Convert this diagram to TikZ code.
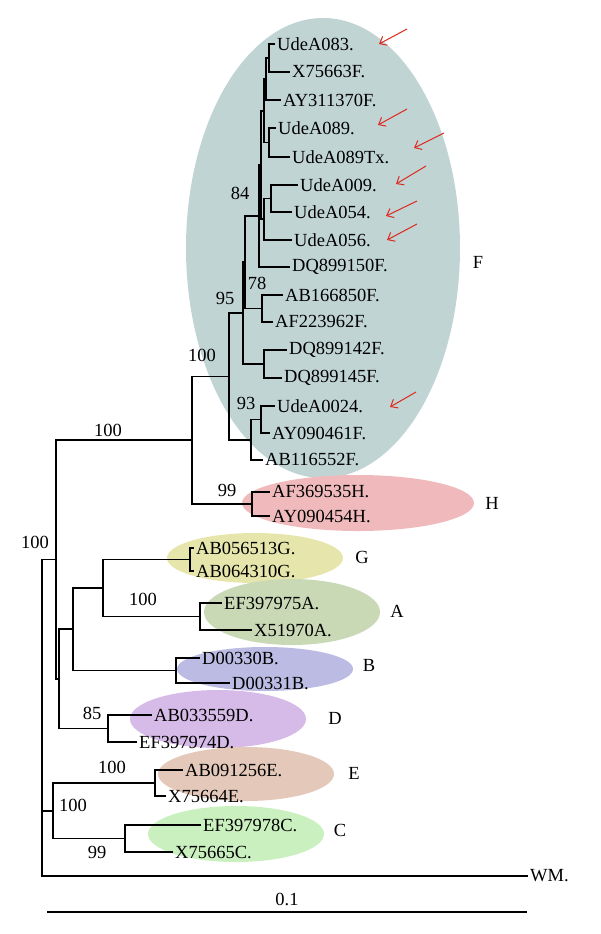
\documentclass[tikz,border=0pt]{standalone}
\usepackage{fontspec}
\setmainfont{Liberation Serif}
\usetikzlibrary{arrows.meta,shapes.geometric}
\definecolor{cF}{RGB}{193,212,212}
\definecolor{cH}{RGB}{240,186,188}
\definecolor{cG}{RGB}{230,230,172}
\definecolor{cA}{RGB}{201,217,182}
\definecolor{cB}{RGB}{187,187,228}
\definecolor{cD}{RGB}{214,186,232}
\definecolor{cE}{RGB}{228,200,186}
\definecolor{cC}{RGB}{202,240,192}
\definecolor{cRed}{RGB}{220,40,30}
\begin{document}
\begin{tikzpicture}[x=1pt,y=-1pt,
  font=\fontsize{18.5}{21}\selectfont,
  br/.style={line width=1.15pt},
  leaf/.style={anchor=west, inner sep=2pt},
  bs/.style={inner sep=0pt},
  blob/.style={ellipse, inner sep=0pt, draw=none},
  redarr/.style={draw=cRed, line width=1pt, -{Straight Barb[length=6pt,width=10pt]}}]
\useasboundingbox (0,0) rectangle (600,934);

% clade ellipses
\node[blob, fill=cF, minimum width=274pt, minimum height=460pt] (eF) at (323,248) {};
\node[blob, fill=cH, minimum width=232pt, minimum height=56pt] (eH) at (358,503) {};
\node[blob, fill=cG, minimum width=176pt, minimum height=50pt] (eG) at (255,558) {};
\node[blob, fill=cA, minimum width=176pt, minimum height=66pt] (eA) at (292,612) {};
\node[blob, fill=cB, minimum width=176pt, minimum height=44pt] (eB) at (265,669) {};
\node[blob, fill=cD, minimum width=176pt, minimum height=58pt] (eD) at (218,719) {};
\node[blob, fill=cE, minimum width=176pt, minimum height=54pt] (eE) at (246,774) {};
\node[blob, fill=cC, minimum width=176pt, minimum height=56pt] (eC) at (236,834) {};

% leaf tips
\coordinate (t1) at (275,44);
\coordinate (t2) at (290,72);
\coordinate (t3) at (281,100);
\coordinate (t4) at (276,128);
\coordinate (t5) at (290,157);
\coordinate (t6) at (298,185);
\coordinate (t7) at (292,212);
\coordinate (t8) at (292,240);
\coordinate (t9) at (290,267);
\coordinate (t10) at (283,295);
\coordinate (t11) at (273,322);
\coordinate (t12) at (287,350);
\coordinate (t13) at (282,378);
\coordinate (t14) at (275,406);
\coordinate (t15) at (270,433);
\coordinate (t16) at (263,460);
\coordinate (t17) at (270,492);
\coordinate (t18) at (270,516);
\coordinate (t19) at (194,548);
\coordinate (t20) at (194,571);
\coordinate (t21) at (222,603);
\coordinate (t22) at (252,630);
\coordinate (t23) at (200,658);
\coordinate (t24) at (230,683);
\coordinate (t25) at (152,715);
\coordinate (t26) at (137,742);
\coordinate (t27) at (183,770);
\coordinate (t28) at (166,796);
\coordinate (t29) at (201,825);
\coordinate (t30) at (173,852);
\coordinate (t31) at (528,876);

% internal nodes
\coordinate (a1) at (269,58);
\coordinate (a2) at (266,79);
\coordinate (a3) at (269,142.5);
\coordinate (a4) at (264,111);
\coordinate (b1) at (271,198.5);
\coordinate (b2) at (264,219);
\coordinate (cc) at (261,165);
\coordinate (n84) at (259,216);
\coordinate (nab) at (262,308.5);
\coordinate (n78) at (245,262);
\coordinate (ndq) at (264,364);
\coordinate (n95) at (243,313);
\coordinate (n93) at (261,419.5);
\coordinate (g3) at (251,440);
\coordinate (nF) at (229,376.5);
\coordinate (nH) at (252,504);
\coordinate (nFH) at (192,440);
\coordinate (nG) at (190,559.5);
\coordinate (nA) at (200,616.5);
\coordinate (nGA) at (103,588);
\coordinate (nB) at (176,670.5);
\coordinate (nGAB) at (73,629);
\coordinate (nD) at (108,728.5);
\coordinate (n59) at (59,679);
\coordinate (n56) at (56,559.5);
\coordinate (nE) at (155,783);
\coordinate (nC) at (125,838.5);
\coordinate (nEC) at (53,811);
\coordinate (root) at (42,700);

% branches
\foreach \p/\c in {a1/t1,a1/t2,a2/a1,a2/t3,a3/t4,a3/t5,a4/a2,a4/a3,
  b1/t6,b1/t7,b2/b1,b2/t8,cc/a4,cc/b2,n84/cc,n84/t9,nab/t10,nab/t11,
  n78/n84,n78/nab,ndq/t12,ndq/t13,n95/n78,n95/ndq,n93/t14,n93/t15,
  g3/n93,g3/t16,nF/n95,nF/g3,nH/t17,nH/t18,nFH/nF,nFH/nH,
  nG/t19,nG/t20,nA/t21,nA/t22,nGA/nG,nGA/nA,nB/t23,nB/t24,
  nGAB/nGA,nGAB/nB,nD/t25,nD/t26,n59/nGAB,n59/nD,n56/nFH,n56/n59,
  nE/t27,nE/t28,nC/t29,nC/t30,nEC/nE,nEC/nC,root/n56,root/nEC,root/t31}
  \draw[br] (\p) |- (\c);

% leaf labels
\node[leaf] (l1) at (t1) {UdeA083.};
\node[leaf] (l2) at (t2) {X75663F.};
\node[leaf] (l3) at (t3) {AY311370F.};
\node[leaf] (l4) at (t4) {UdeA089.};
\node[leaf] (l5) at (t5) {UdeA089Tx.};
\node[leaf] (l6) at (t6) {UdeA009.};
\node[leaf] (l7) at (t7) {UdeA054.};
\node[leaf] (l8) at (t8) {UdeA056.};
\node[leaf] (l9) at (t9) {DQ899150F.};
\node[leaf] (l10) at (t10) {AB166850F.};
\node[leaf] (l11) at (t11) {AF223962F.};
\node[leaf] (l12) at (t12) {DQ899142F.};
\node[leaf] (l13) at (t13) {DQ899145F.};
\node[leaf] (l14) at (t14) {UdeA0024.};
\node[leaf] (l15) at (t15) {AY090461F.};
\node[leaf] (l16) at (t16) {AB116552F.};
\node[leaf] (l17) at (t17) {AF369535H.};
\node[leaf] (l18) at (t18) {AY090454H.};
\node[leaf] (l19) at (t19) {AB056513G.};
\node[leaf] (l20) at (t20) {AB064310G.};
\node[leaf] (l21) at (t21) {EF397975A.};
\node[leaf] (l22) at (t22) {X51970A.};
\node[leaf] (l23) at (t23) {D00330B.};
\node[leaf] (l24) at (t24) {D00331B.};
\node[leaf] (l25) at (t25) {AB033559D.};
\node[leaf] (l26) at (t26) {EF397974D.};
\node[leaf] (l27) at (t27) {AB091256E.};
\node[leaf] (l28) at (t28) {X75664E.};
\node[leaf] (l29) at (t29) {EF397978C.};
\node[leaf] (l30) at (t30) {X75665C.};
\node[leaf] (l31) at (t31) {WM.};

% bootstrap values
\node[bs] (s84) at (240,193) {84};
\node[bs] (s78) at (257,283) {78};
\node[bs] (s95) at (225,298) {95};
\node[bs] (s100a) at (202,355) {100};
\node[bs] (s93) at (246,403) {93};
\node[bs] (s100b) at (108,430) {100};
\node[bs] (s99a) at (227,490) {99};
\node[bs] (s100c) at (35,542) {100};
\node[bs] (s100d) at (143,599) {100};
\node[bs] (s85) at (92,713) {85};
\node[bs] (s100e) at (112,767) {100};
\node[bs] (s100f) at (73,805) {100};
\node[bs] (s99b) at (97,852) {99};

% clade letters
\node[bs] (kF) at (478,262) {F};
\node[bs] (kH) at (492,503) {H};
\node[bs] (kG) at (362,557) {G};
\node[bs] (kA) at (397,611) {A};
\node[bs] (kB) at (369,665) {B};
\node[bs] (kD) at (335,718) {D};
\node[bs] (kE) at (354,773) {E};
\node[bs] (kC) at (340,830) {C};

% red arrows
\coordinate (r1s) at (407,29);  \coordinate (r1e) at (379,44);
\coordinate (r2s) at (407,109); \coordinate (r2e) at (378,125);
\coordinate (r3s) at (444,133); \coordinate (r3e) at (414,148);
\coordinate (r4s) at (426,166); \coordinate (r4e) at (396,184);
\coordinate (r5s) at (417,201); \coordinate (r5e) at (386,216);
\coordinate (r6s) at (417,224); \coordinate (r6e) at (387,240);
\coordinate (r7s) at (416,392); \coordinate (r7e) at (390,407);
\foreach \i in {1,...,7} \draw[redarr] (r\i s) -- (r\i e);

% scale bar
\coordinate (sb1) at (47,912);
\coordinate (sb2) at (527,912);
\draw[br] (sb1) -- (sb2);
\node[bs] (sbl) at (287,899) {0.1};
\end{tikzpicture}
\end{document}
